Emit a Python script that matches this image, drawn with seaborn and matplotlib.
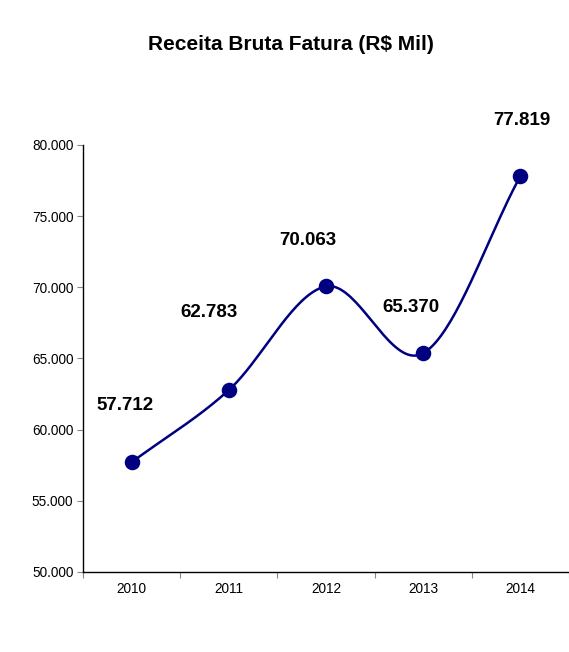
import numpy as np
import pandas as pd
import matplotlib
matplotlib.use("Agg")
import matplotlib.pyplot as plt
import seaborn as sns
from matplotlib.ticker import FuncFormatter, FixedLocator

years = ["2010", "2011", "2012", "2013", "2014"]
receita = [57712, 62783, 70063, 65370, 77819]
labels = ["57.712", "62.783", "70.063", "65.370", "77.819"]

# label offsets in points (dx, dy) from each marker
label_offsets = [(-5, 41), (-14, 56), (-13, 33), (-9, 33), (1, 40)]

NAVY = "#000080"


def catmull_rom(x, y, n=40):
    # smooth curve through the points, like a spreadsheet "smoothed line"
    px = np.concatenate([[2 * x[0] - x[1]], x, [2 * x[-1] - x[-2]]])
    py = np.concatenate([[2 * y[0] - y[1]], y, [2 * y[-1] - y[-2]]])
    xs, ys = [], []
    t = np.linspace(0, 1, n)
    for i in range(1, len(px) - 2):
        p0, p1, p2, p3 = (np.array([px[j], py[j]]) for j in range(i - 1, i + 3))
        c1 = p1 + (p2 - p0) / 6
        c2 = p2 - (p3 - p1) / 6
        b = (((1 - t) ** 3)[:, None] * p1 + (3 * (1 - t) ** 2 * t)[:, None] * c1
             + (3 * (1 - t) * t ** 2)[:, None] * c2 + (t ** 3)[:, None] * p2)
        xs.append(b[:, 0])
        ys.append(b[:, 1])
    return np.concatenate(xs), np.concatenate(ys)


def main():
    sns.set_style("white")
    plt.rcParams["font.family"] = ["Liberation Sans", "DejaVu Sans"]
    plt.rcParams["text.color"] = "black"

    df = pd.DataFrame({"Ano": years, "Receita": receita})
    df["pos"] = np.arange(len(years))

    fig = plt.figure(figsize=(5.69, 6.52), dpi=100)
    ax = fig.add_axes([0.146, 0.1227, 0.854, 0.655])

    sx, sy = catmull_rom(df["pos"].values.astype(float), df["Receita"].values.astype(float))
    ax.plot(sx, sy, color=NAVY, lw=1.8, zorder=2)
    sns.scatterplot(data=df, x="pos", y="Receita", ax=ax, color=NAVY, s=125,
                    edgecolor=NAVY, linewidth=0, zorder=3, legend=False)

    for i, (lab, (dx, dy)) in enumerate(zip(labels, label_offsets)):
        ax.annotate(lab, (df["pos"][i], df["Receita"][i]), xytext=(dx, dy),
                    textcoords="offset points", ha="center", va="center",
                    fontsize=13.5, fontweight="bold", color="black")

    ax.set_xlim(-0.5, len(years) - 0.5)
    ax.set_ylim(50000, 80000)
    ax.set_yticks(np.arange(50000, 80001, 5000))
    ax.yaxis.set_major_formatter(FuncFormatter(lambda v, p: f"{v/1000:.3f}"))
    ax.set_xticks(df["pos"])
    ax.set_xticklabels(years)
    ax.xaxis.set_minor_locator(FixedLocator(np.arange(-0.5, len(years), 1.0)))
    ax.tick_params(axis="x", which="major", length=0, labelsize=9.8, pad=7, labelcolor="black")
    ax.tick_params(axis="x", which="minor", length=4, width=0.8, color="#888888", direction="out")
    ax.tick_params(axis="y", length=4, width=0.8, color="#888888", direction="out",
                   labelsize=9.8, pad=3, labelcolor="black")
    ax.tick_params(bottom=True, left=True, which="both")

    for s in ["top", "right"]:
        ax.spines[s].set_visible(False)
    for s in ["left", "bottom"]:
        ax.spines[s].set_color("black")
        ax.spines[s].set_linewidth(1.0)

    ax.set_xlabel("")
    ax.set_ylabel("")
    fig.text(0.512, 0.931, "Receita Bruta Fatura (R$ Mil)", ha="center", va="center",
             fontsize=15, fontweight="bold", color="black")

    fig.savefig("out.png", dpi=100)


if __name__ == "__main__":
    main()
